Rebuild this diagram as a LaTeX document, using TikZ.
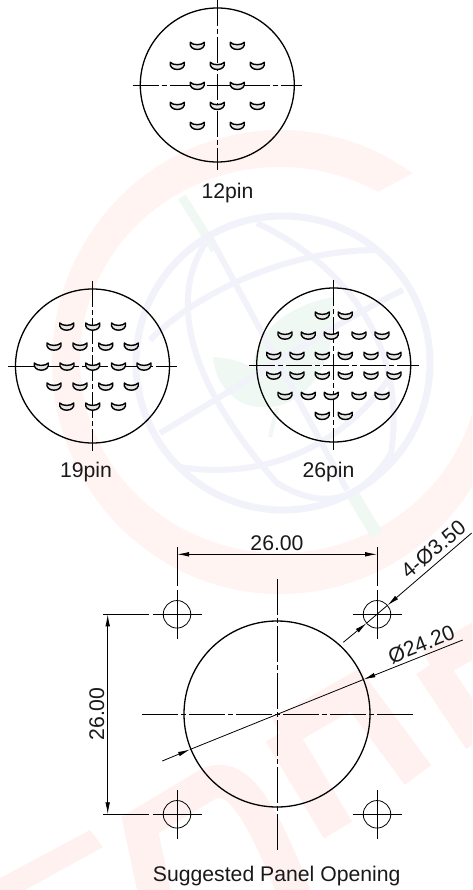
\documentclass[tikz,border=0pt]{standalone}
\usepackage{fontspec}
\setmainfont{Liberation Sans}
\usetikzlibrary{arrows.meta}
\definecolor{markred}{HTML}{FFF4F2}
\definecolor{letterred}{HTML}{FFF1F0}
\definecolor{markblue}{HTML}{F2F2FA}
\definecolor{markgreen}{HTML}{F0F8F3}
\begin{document}
\begin{tikzpicture}[
        x=1pt, y=-1pt,
        every node/.style={font=\fontsize{21.2}{24}\selectfont, text=black!90},
        face/.style={circle, draw, line width=1.3pt, minimum size=154pt, inner sep=0pt},
        panel/.style={circle, draw, line width=1.3pt, minimum size=186pt, inner sep=0pt},
        hole/.style={circle, draw, line width=0.8pt, minimum size=27.5pt, inner sep=0pt},
        axisline/.style={line width=0.9pt, dash pattern=on 26pt off 3pt on 5pt off 3pt},
        bigaxis/.style={line width=0.9pt, dash pattern=on 36pt off 3pt on 5pt off 3pt},
        thin line/.style={line width=0.8pt},
        dimline/.style={line width=0.8pt},
        arrow/.style={-{Latex[length=12pt,width=4.6pt]}, line width=0.8pt},
        arrows both/.style={{Latex[length=12pt,width=4.6pt]}-{Latex[length=12pt,width=4.6pt]}, line width=0.8pt},
        pinmark/.pic={\draw[line width=1.4pt, line join=round, fill=black!10] (-7,-3) .. controls (-4.5,0.2) and (4.5,0.2) .. (7,-3)
            .. controls (8,1.4) and (4.5,4.2) .. (0,4.2) .. controls (-4.5,4.2) and (-8,1.4) .. cycle;}
    ]
    \useasboundingbox (0,0) rectangle (472,890);

    % Watermark
    \begin{scope}
    \clip (0,0) rectangle (472,890);
    \coordinate (markcenter) at (280,362);
    \fill[markred] (markcenter) ++(54.4:228pt and 232pt)
        arc[start angle=54.4, end angle=360, x radius=228pt, y radius=232pt]
        -- ++(-28pt,2pt)
        arc[start angle=360, end angle=60.6, x radius=200pt, y radius=193pt] -- cycle;
    \draw[markgreen, line width=9pt] (182,197) -- (215,250);
    \draw[markgreen, line width=13pt] (350,490) -- (377,535);
    \fill[markgreen] (213,357) .. controls (216,390) and (240,408) .. (263,407)
        .. controls (300,410) and (340,370) .. (333,297)
        .. controls (290,305) and (255,330) .. (253,368) .. controls (240,360) and (225,358) .. cycle;
    \draw[markgreen, line width=4pt] (270,437) -- (277,408);
    \draw[markblue, line width=7pt] (283,363) circle[radius=147pt];
    \draw[markblue, line width=6pt] (208,233) -- (347,490);
    \draw[markblue, line width=6pt] (213,233) .. controls (165,290) and (185,380) .. (277,483)
        .. controls (330,515) and (365,495) .. (392,452);
    \draw[markblue, line width=6pt] (257,223) .. controls (345,265) and (410,345) .. (390,460);
    \draw[markblue, line width=6pt] (150,340) .. controls (200,290) and (290,250) .. (377,250);
    \draw[markblue, line width=6pt] (160,433) .. controls (250,380) and (340,320) .. (403,290);
    \draw[markblue, line width=6pt] (180,467) .. controls (260,480) and (340,450) .. (390,377);
    \fill[letterred] (0,878) -- (90,830) -- (103,847) -- (25,890) -- (0,890) -- cycle;
    \draw[letterred, line width=33pt] (155,895) -- (140,825) -- (210,783) .. controls (235,775) and (255,795) .. (295,895);
    \draw[letterred, line width=33pt] (280,733) -- (338,830);
    \draw[letterred, line width=33pt] (280,733) -- (355,690) -- (418,775);
    \draw[letterred, line width=33pt] (430,665) -- (480,637);
    \draw[letterred, line width=33pt] (430,665) -- (480,740);
    \end{scope}

    % 12pin
    \node[face] (face12) at (217.3,85) {};
    \draw[axisline] (132.7,85) -- (302,85);
    \draw[axisline] (217.3,0) -- (217.3,170);
    \foreach \px/\py in {197.3/45.3, 237.3/45.3, 177.3/65.3, 217.3/65.3, 257.3/65.3, 197.3/85.3, 237.3/85.3,
        177.3/105.3, 217.3/105.3, 257.3/105.3, 197.3/125.3, 237.3/125.3}
        \pic at (\px,\py) {pinmark};
    \node[anchor=base] (label12) at (227.5,199) {12pin};

    % 19pin
    \node[face] (face19) at (92.5,366) {};
    \draw[axisline] (8,366) -- (177,366);
    \draw[axisline] (92.5,281) -- (92.5,451);
    \foreach \px in {66.7, 92.7, 118.5} {
        \pic at (\px,326) {pinmark};
        \pic at (\px,406) {pinmark};
    }
    \foreach \px in {54, 80, 105.7, 131.3} {
        \pic at (\px,346) {pinmark};
        \pic at (\px,386) {pinmark};
    }
    \foreach \px in {41.3, 67, 92.7, 118.5, 144}
        \pic at (\px,366) {pinmark};
    \node[anchor=base] (label19) at (86,477) {19pin};

    % 26pin
    \node[face] (face26) at (333.7,365) {};
    \draw[axisline] (249,365) -- (418.5,365);
    \draw[axisline] (333.7,280) -- (333.7,450);
    \foreach \px in {322.3, 345.3} {
        \pic at (\px,315) {pinmark};
        \pic at (\px,415.3) {pinmark};
    }
    \foreach \px in {285, 308.3, 331.3, 359, 382} {
        \pic at (\px,335) {pinmark};
        \pic at (\px,395.3) {pinmark};
    }
    \foreach \px in {273.7, 297, 322.3, 345.3, 371, 394} {
        \pic at (\px,355.3) {pinmark};
        \pic at (\px,375) {pinmark};
    }
    \node[anchor=base] (label26) at (328.5,477) {26pin};

    % Panel opening
    \node[panel] (panel) at (277,714) {};
    \draw[bigaxis] (142,714) -- (413,714);
    \draw[bigaxis] (277,579) -- (277,850);

    % Mounting holes
    \node[hole] (holeTL) at (177,614.3) {};
    \node[hole] (holeTR) at (377,614.3) {};
    \node[hole] (holeBL) at (177,814.3) {};
    \node[hole] (holeBR) at (377,814.3) {};
    \foreach \hole in {holeTL, holeTR, holeBL, holeBR} {
        \draw[thin line] ([xshift=-24.5pt]\hole.center) -- ([xshift=24.5pt]\hole.center);
        \draw[thin line] ([yshift=-24.5pt]\hole.center) -- ([yshift=24.5pt]\hole.center);
    }

    % Width dimension
    \coordinate (widthL) at (177,554.3);
    \coordinate (widthR) at (377,554.3);
    \draw[dimline] (177,547) -- (177,586);
    \draw[dimline] (377,547) -- (377,586);
    \draw[arrows both] (widthL) -- (widthR);
    \node[anchor=base] (widthlabel) at (277,550.7) {26.00};

    % Height dimension
    \coordinate (heightT) at (107.7,614.3);
    \coordinate (heightB) at (107.7,814.3);
    \draw[dimline] (103,614.3) -- (149,614.3);
    \draw[dimline] (103,814.3) -- (149,814.3);
    \draw[arrows both] (heightT) -- (heightB);
    \node[anchor=base, rotate=90] (heightlabel) at (104,714) {26.00};

    % Hole diameter
    \coordinate (holeoutA) at (471.7,533);
    \coordinate (holetipA) at (387.4,605.4);
    \coordinate (holeoutB) at (343.3,642.3);
    \coordinate (holetipB) at (366.6,623.1);
    \draw[arrow] (holeoutA) -- (holetipA);
    \draw[arrow] (holeoutB) -- (holetipB);
    \draw[thin line] (holetipA) -- (holetipB);
    \node[anchor=base, rotate=40] (holelabel) at (438,555) {4-Ø3.50};

    % Panel diameter
    \coordinate (paneloutA) at (462.7,640);
    \coordinate (paneltipA) at (363.5,679.5);
    \coordinate (paneloutB) at (162.3,761);
    \coordinate (paneltipB) at (190,749.5);
    \draw[arrow] (paneloutA) -- (paneltipA);
    \draw[arrow] (paneloutB) -- (paneltipB);
    \draw[thin line] (paneltipA) -- (paneltipB);
    \node[anchor=base, rotate=22] (panellabel) at (424,651) {Ø24.20};

    \node[anchor=base] (caption) at (276.7,881.7) {Suggested Panel Opening};

\end{tikzpicture}
\end{document}
